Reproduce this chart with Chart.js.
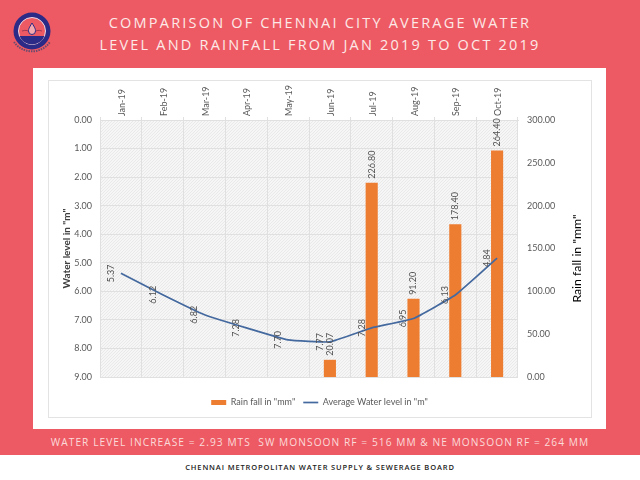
<!DOCTYPE html>
<html><head><meta charset="utf-8">
<script src="https://cdn.jsdelivr.net/npm/chart.js@4/dist/chart.umd.min.js"></script>
<style>
html,body{margin:0;padding:0;width:640px;height:480px;overflow:hidden;background:#EE5A63;}
.abs{position:absolute;white-space:nowrap;}
#t1,#t2{font-family:"Open Sans";font-weight:400;font-size:14.5px;color:#FCE9E8;line-height:20px;letter-spacing:2.2px;left:0;width:640px;text-align:center;}
#panel{left:33px;top:68px;width:573px;height:361px;background:#fff;}
#frame{left:48px;top:80px;width:542px;height:336px;border:1px solid #E3E3E3;}
#chartCanvas{position:absolute;left:48px;top:80px;}
#note{left:0;width:640px;text-align:center;top:434px;font-family:"Open Sans";font-size:10.2px;letter-spacing:1.05px;color:#FBDADA;line-height:16px;}
#foot{left:0;top:455px;width:640px;height:25px;background:#fff;}
#footText{left:0;width:640px;text-align:center;top:461px;font-family:"Open Sans";font-weight:600;font-size:7.5px;letter-spacing:.86px;color:#222;line-height:12px;}
#logo{left:8px;top:8px;}
</style></head>
<body>
<svg id="logo" class="abs" width="48" height="48" viewBox="0 0 48 48">
<path d="M6 34 A22 22 0 0 0 42 34" fill="none" stroke="#6B4A6E" stroke-width="2" stroke-dasharray="1.5 1"/>
<circle cx="24" cy="23" r="18.5" fill="#2B2A86"/>
<circle cx="24" cy="23" r="13.5" fill="#EE5A63" stroke="#E8D9E8" stroke-width="1"/>
<path d="M11.5 28 A13.5 13.5 0 0 0 36.5 28 Z" fill="#2B2A86"/>
<path d="M14 23 Q20 21 22 25 M34 23 Q28 21 26 25" fill="none" stroke="#7A2B4E" stroke-width=".7"/>
<path d="M24 15 C21 20 20.5 21 20.5 23 A3.5 3.5 0 0 0 27.5 23 C27.5 21 27 20 24 15 Z" fill="#F3A7AE" stroke="#2B2A86" stroke-width="1"/>
</svg>
<div id="t1" class="abs" style="top:13px">COMPARISON OF CHENNAI CITY AVERAGE WATER</div>
<div id="t2" class="abs" style="top:35px">LEVEL AND RAINFALL FROM JAN 2019 TO OCT 2019</div>
<div id="panel" class="abs"></div>
<div id="frame" class="abs"></div>
<canvas id="chartCanvas" width="543" height="337"></canvas>
<div id="note" class="abs">WATER LEVEL INCREASE = 2.93 MTS&nbsp; SW MONSOON RF = 516 MM &amp; NE MONSOON RF = 264 MM</div>
<div id="foot" class="abs"></div>
<div id="footText" class="abs">CHENNAI METROPOLITAN WATER SUPPLY &amp; SEWERAGE BOARD</div>
<script>
const categories = ["Jan-19","Feb-19","Mar-19","Apr-19","May-19","Jun-19","Jul-19","Aug-19","Sep-19","Oct-19"];
const rainfall = [null,null,null,null,null,20.07,226.80,91.20,178.40,264.40];
const waterLevel = [5.37,6.12,6.82,7.28,7.70,7.77,7.28,6.95,6.13,4.84];
const rainLabel = 'Rain fall in "mm"';
const waterLabel = 'Average Water level in "m"';
const leftTitle = 'Water level in "m"';
const rightTitle = 'Rain fall in "mm"';
const labelFont = '9px Lato';
const grey = '#595959';

function hatch(ctx){
  const c=document.createElement('canvas');c.width=3;c.height=3;
  const x=c.getContext('2d');
  x.fillStyle='#F6F6F6';x.fillRect(0,0,3,3);
  x.fillStyle='#E9E9E9';
  x.fillRect(0,2,1,1);x.fillRect(1,1,1,1);x.fillRect(2,0,1,1);
  return ctx.createPattern(c,'repeat');
}
const plotBg={id:'plotBg',beforeDraw(chart){
  const a=chart.chartArea,ctx=chart.ctx;
  ctx.save();ctx.fillStyle=hatch(ctx);ctx.fillRect(a.left,a.top,a.width,a.height);ctx.restore();
}};
function vtext(ctx,s,x,y,align){
  ctx.save();ctx.translate(x,y);ctx.rotate(-Math.PI/2);ctx.textAlign=align;ctx.textBaseline='middle';ctx.fillText(s,0,0);ctx.restore();
}
const valueLabels={id:'valueLabels',afterDraw(chart){
  const ctx=chart.ctx;
  ctx.save();ctx.font=labelFont;ctx.fillStyle='#505050';
  chart.getDatasetMeta(0).data.forEach((el,i)=>{
    if(rainfall[i]==null)return;
    vtext(ctx,rainfall[i].toFixed(2),el.x,el.y-4,'left');
  });
  chart.getDatasetMeta(1).data.forEach((el,i)=>{
    vtext(ctx,waterLevel[i].toFixed(2),el.x-10,el.y,'center');
  });
  ctx.font='12.3px Lato';ctx.fillStyle='#000';
  vtext(ctx,rightTitle,529,178.5,'center');
  ctx.restore();
}};
new Chart(document.getElementById('chartCanvas'),{
  data:{labels:categories,datasets:[
    {type:'bar',label:rainLabel,data:rainfall,yAxisID:'yR',xAxisID:'x',backgroundColor:'#ED7D31',barPercentage:0.29,categoryPercentage:1,order:2,pointStyle:'rect'},
    {type:'line',label:waterLabel,data:waterLevel,yAxisID:'yL',xAxisID:'x',borderColor:'#44699F',backgroundColor:'#44699F',borderWidth:1.7,pointRadius:0,tension:0.1,order:1,pointStyle:'line'}
  ]},
  options:{
    responsive:false,animation:false,devicePixelRatio:1,
    layout:{padding:0},
    plugins:{
      tooltip:{enabled:false},
      legend:{position:'bottom',labels:{usePointStyle:true,pointStyleWidth:15,boxHeight:5,padding:8,color:grey,font:{family:'Lato',size:9},sort:(a,b)=>a.datasetIndex-b.datasetIndex}}
    },
    scales:{
      x:{position:'top',offset:true,
        grid:{color:'#E0E0E0',tickLength:3,tickColor:'#E0E0E0'},border:{color:'#E0E0E0'},
        ticks:{color:grey,font:{family:'Lato',size:9},minRotation:90,maxRotation:90,padding:1,labelOffset:12,autoSkip:false},
        afterFit(s){s.height=40;}},
      xb:{position:'bottom',type:'category',labels:categories,grid:{display:false},border:{display:false},
        ticks:{display:false},afterFit(s){s.height=13;}},
      yL:{position:'left',reverse:true,min:0,max:9,
        grid:{color:'#E0E0E0',drawTicks:false},border:{color:'#E0E0E0'},
        ticks:{stepSize:1,color:grey,padding:8,font:{family:'Lato',size:9},callback:v=>Number(v).toFixed(2)},
        title:{display:true,text:leftTitle,color:'#404040',font:{family:'Lato',size:10,weight:'bold'},padding:{top:13,bottom:0}},
        afterFit(s){s.width=52;}},
      yR:{position:'right',min:0,max:300,
        grid:{display:false,drawTicks:false},border:{display:false},
        ticks:{stepSize:50,color:grey,padding:9,font:{family:'Lato',size:9},callback:v=>Number(v).toFixed(2)},
        afterFit(s){s.width=73;}}
    }
  },
  plugins:[plotBg,valueLabels]
});
</script>
</body></html>
